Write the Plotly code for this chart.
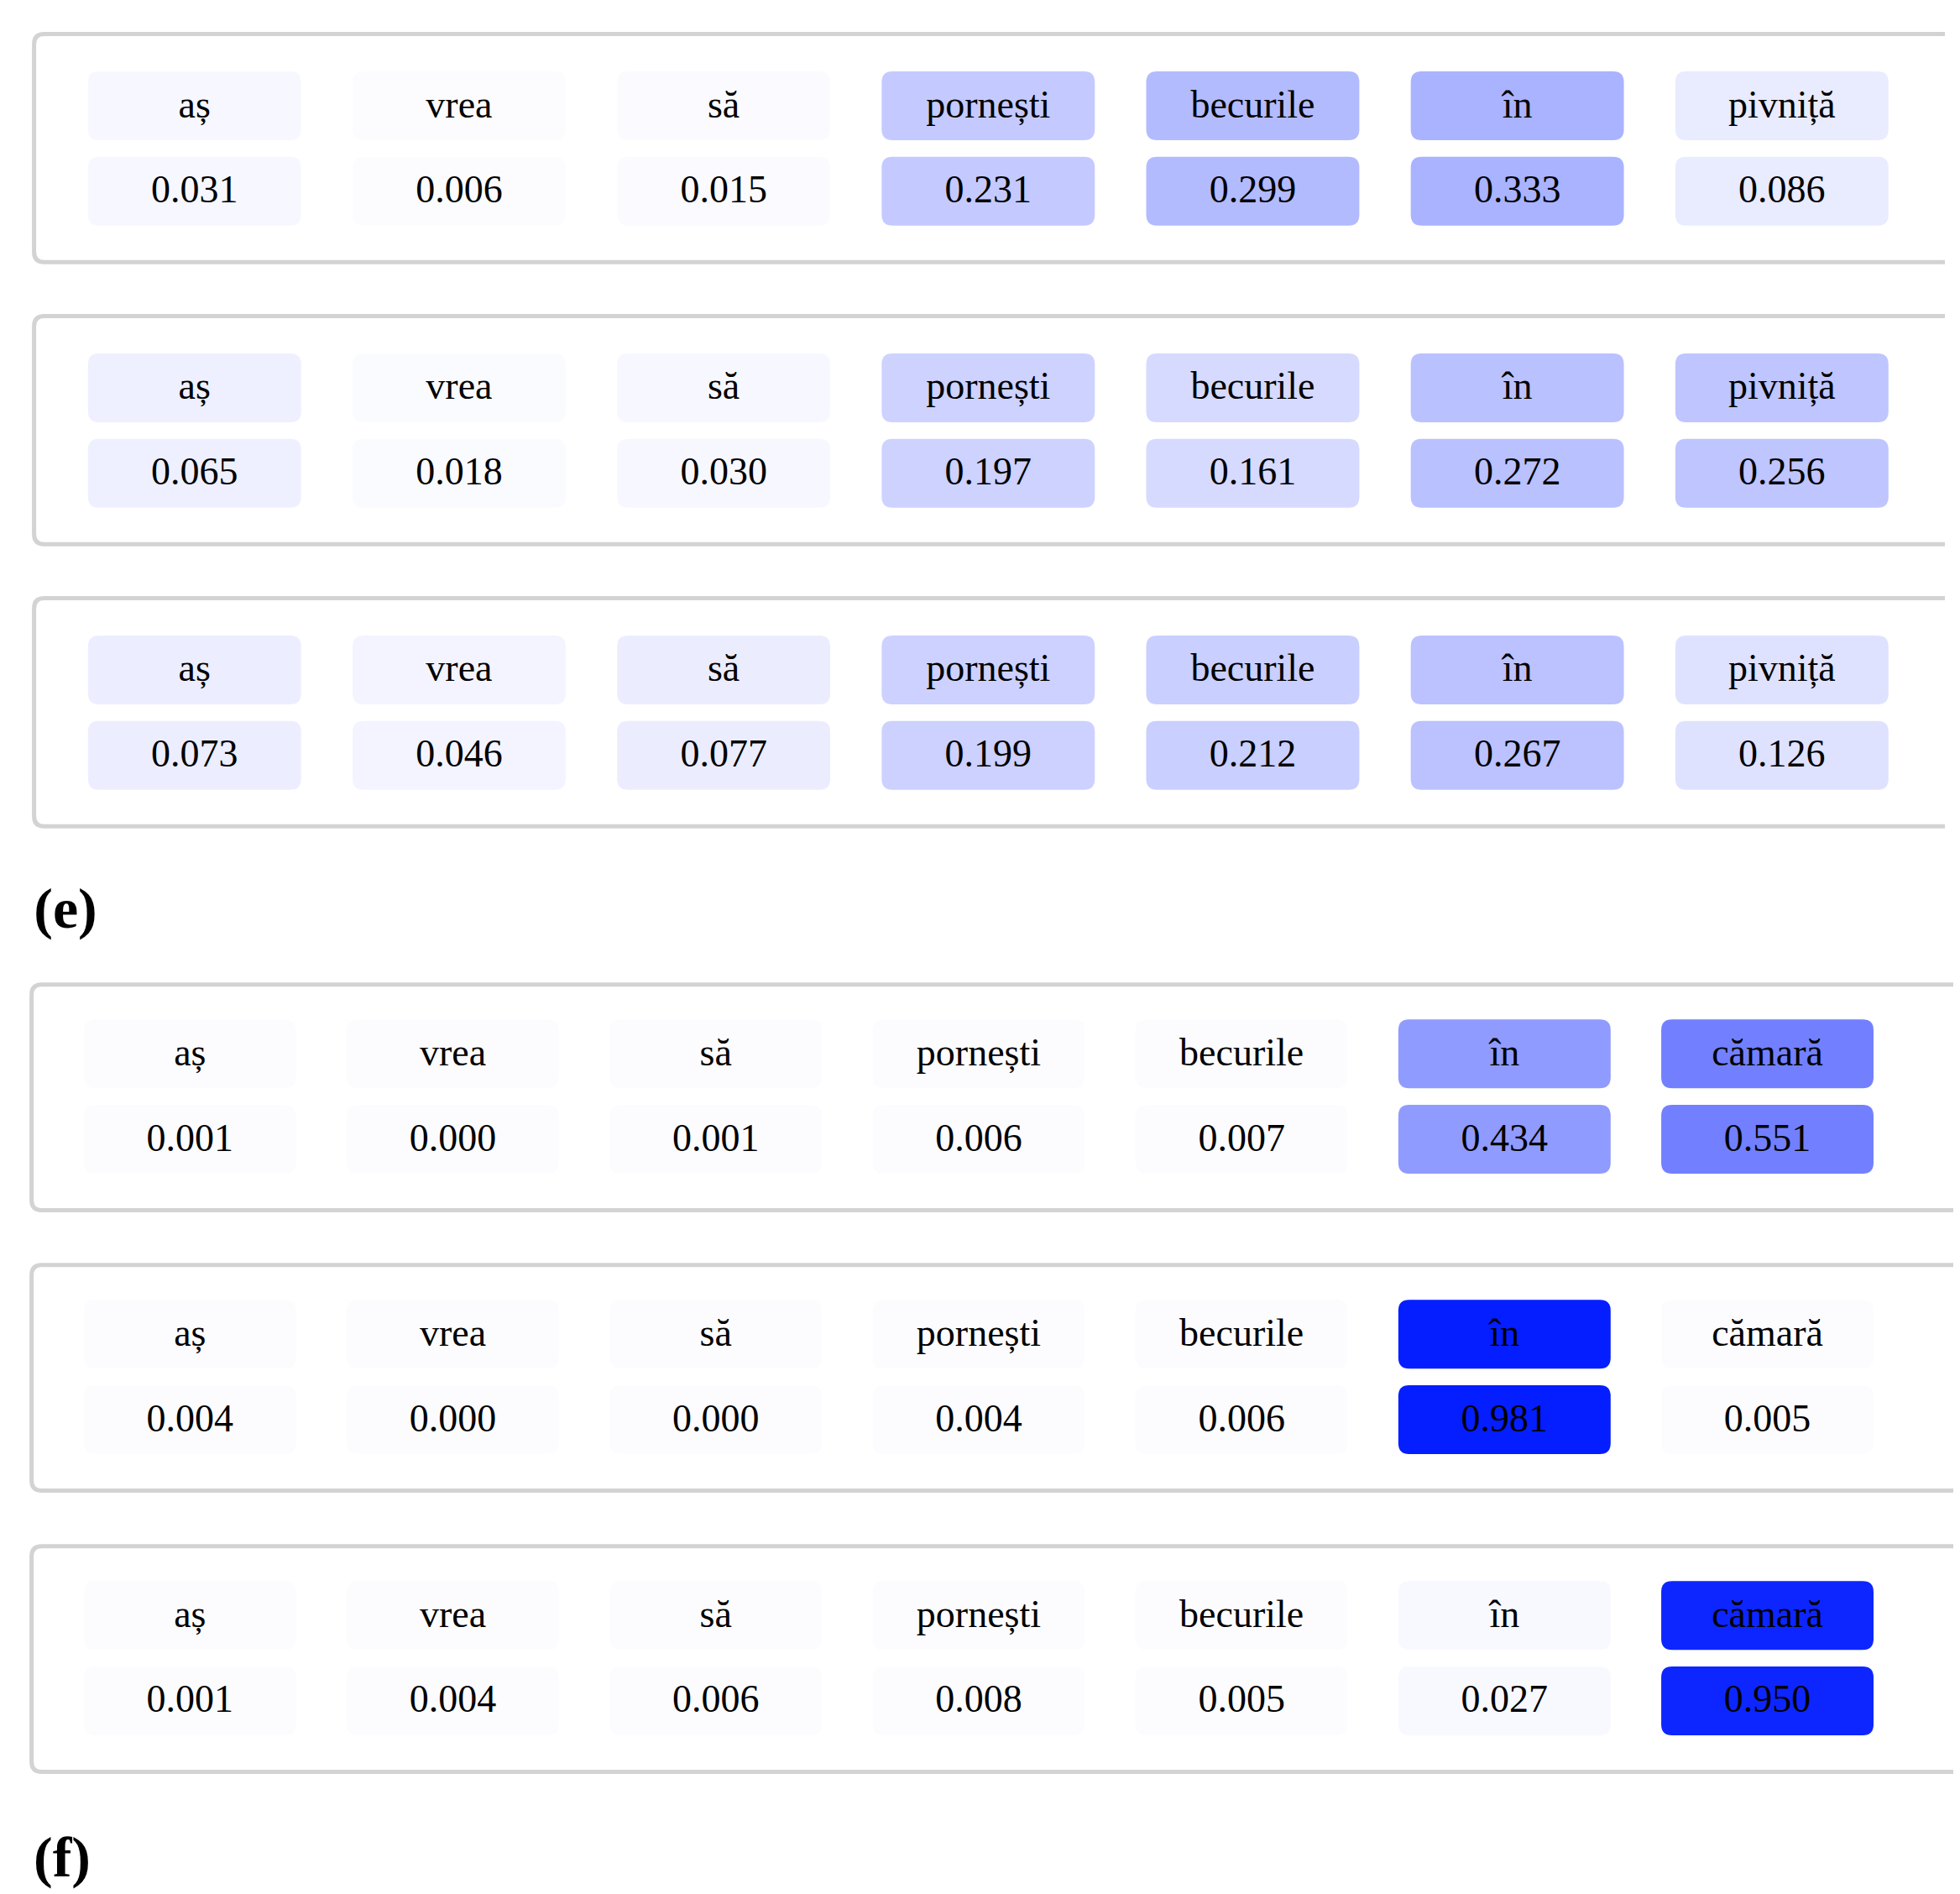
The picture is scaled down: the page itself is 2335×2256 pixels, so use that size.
import plotly.graph_objects as go

W, H = 2335, 2256
words_e = ["aș", "vrea", "să", "pornești", "becurile", "în", "pivniță"]
vals_e = [
    [0.031, 0.006, 0.015, 0.231, 0.299, 0.333, 0.086],
    [0.065, 0.018, 0.030, 0.197, 0.161, 0.272, 0.256],
    [0.073, 0.046, 0.077, 0.199, 0.212, 0.267, 0.126],
]
words_f = ["aș", "vrea", "să", "pornești", "becurile", "în", "cămară"]
vals_f = [
    [0.001, 0.000, 0.001, 0.006, 0.007, 0.434, 0.551],
    [0.004, 0.000, 0.000, 0.004, 0.006, 0.981, 0.005],
    [0.001, 0.004, 0.006, 0.008, 0.005, 0.027, 0.950],
]
labels = ["(e)", "(f)"]
S = 0.988

def rrect(x0, y0, x1, y1, r):
    return (f"M{x0+r},{y0} L{x1-r},{y0} Q{x1},{y0} {x1},{y0+r} L{x1},{y1-r} "
            f"Q{x1},{y1} {x1-r},{y1} L{x0+r},{y1} Q{x0},{y1} {x0},{y1-r} "
            f"L{x0},{y0+r} Q{x0},{y0} {x0+r},{y0} Z")

def open_panel(x0, y0, x1, y1, r):
    return (f"M{x1},{y0} L{x0+r},{y0} Q{x0},{y0} {x0},{y0+r} L{x0},{y1-r} "
            f"Q{x0},{y1} {x0+r},{y1} L{x1},{y1}")

shapes, tx, ty, tt = [], [], [], []
groups = [
    dict(words=words_e, vals=vals_e, px0=33, px1=2309, tops=[33, 373, 713], ph=275,
         cx0=98, pitch=319, cw=257, wo=45, vo=148, ch=83),
    dict(words=words_f, vals=vals_f, px0=30, px1=2330, tops=[1179, 1517, 1856], ph=272,
         cx0=93, pitch=317, cw=256, wo=42, vo=145, ch=83),
]
for g in groups:
    for top, row in zip(g["tops"], g["vals"]):
        shapes.append(dict(type="path",
                           path=open_panel(g["px0"]*S, top*S, g["px1"], (top + g["ph"])*S, 12),
                           line=dict(color="#d3d3d3", width=5), layer="below"))
        for i, (w, v) in enumerate(zip(g["words"], row)):
            x0 = (g["cx0"] + i * g["pitch"]) * S
            x1 = x0 + g["cw"] * S
            for off, txt in ((g["wo"], w), (g["vo"], f"{v:.3f}")):
                y0 = (top + off) * S
                y1 = y0 + g["ch"] * S
                shapes.append(dict(type="path", path=rrect(x0, y0, x1, y1, 13),
                                   fillcolor=f"rgba(0,26,255,{max(v,0.012)})", line=dict(width=0),
                                   layer="below"))
                tx.append((x0 + x1) / 2); ty.append((y0 + y1) / 2 + 2); tt.append(txt)

fig = go.Figure(go.Scatter(x=tx, y=ty, text=tt, mode="text",
                           textfont=dict(family="Liberation Serif", size=46, color="black"),
                           hoverinfo="skip"))
fig.add_trace(go.Scatter(x=[70, 66], y=[1080, 2210], text=labels, mode="text",
                         textfont=dict(family="Liberation Serif", size=68, color="black"),
                         texttemplate="<b>%{text}</b>", hoverinfo="skip"))
fig.update_layout(width=W, height=H, margin=dict(l=0, r=0, t=0, b=0), showlegend=False,
                  plot_bgcolor="white", paper_bgcolor="white", shapes=shapes)
fig.update_xaxes(range=[0, W], visible=False)
fig.update_yaxes(range=[H, 0], visible=False)
fig.write_html("out.html")
